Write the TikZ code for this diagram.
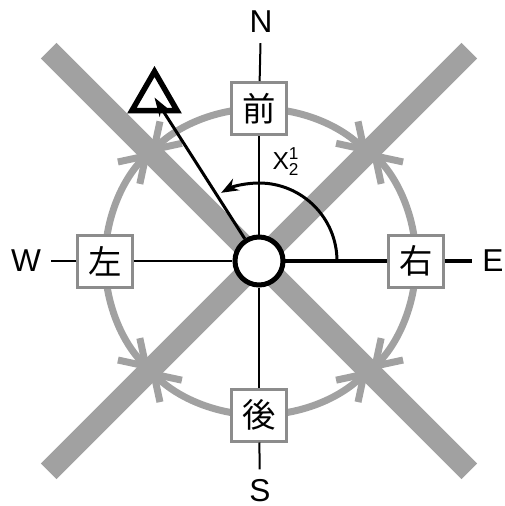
\documentclass[tikz,border=0pt]{standalone}
\usepackage{amsmath}
\usepackage{fontspec}
\setmainfont{Liberation Sans}
\newfontfamily\jpfont{Noto Sans CJK JP}
\usepackage{tikz}
\usetikzlibrary{arrows.meta, positioning, shapes.geometric, backgrounds}
\colorlet{cFaixa}{black!37}
\colorlet{cCaixa}{black!45}

\begin{document}
\begin{tikzpicture}[
  caixa/.style={draw=cCaixa, line width=0.06cm, fill=white, minimum width=1.1cm,
                minimum height=1.04cm, inner sep=0pt, font=\jpfont\fontsize{19}{19}\selectfont},
  rumo/.style={inner sep=0.2cm, font=\fontsize{18}{18}\selectfont},
  fino/.style={line width=0.04cm},
  grosso/.style={line width=0.09cm},
  faixa/.style={cFaixa, line width=0.44cm},
  giro/.style={cFaixa, line width=0.14cm, -{Straight Barb[length=0.48cm, width=0.62cm]}},
]
  \useasboundingbox (-5.18,-4.9) rectangle (4.92,5.22);
  % Centro e caixas
  \node[circle, draw, line width=0.1cm, fill=white, minimum size=0.96cm, inner sep=0pt] (c) at (0,0) {};
  \node[caixa] (fr) at (0,3.05) {前};
  \node[caixa] (tr) at (0,-3.08) {後};
  \node[caixa] (esq) at (-3.08,0) {左};
  \node[caixa] (dir) at (3.14,0) {右};
  % Rumos
  \node[rumo] (N) at (0.04,4.78) {N};
  \node[rumo] (S) at (0.02,-4.6) {S};
  \node[rumo] (W) at (-4.66,0) {W};
  \node[rumo] (E) at (4.68,0) {E};
  % Eixos
  \draw[fino] (N) -- (fr);
  \draw[fino] (fr) -- (c);
  \draw[fino] (c) -- (tr);
  \draw[fino] (tr) -- (S);
  \draw[fino] (W) -- (esq);
  \draw[fino] (esq) -- (c);
  \draw[grosso] (c) -- (dir);
  \draw[grosso] (dir) -- (E);
  % Alvo e seta
  \node[regular polygon, regular polygon sides=3, draw, line width=0.11cm, minimum size=1.04cm,
        inner sep=0pt] (alvo) at (-2.09,3.27) {};
  \draw[line width=0.06cm, -{Stealth[length=0.38cm, width=0.24cm]}] (c) -- (alvo.center);
  % Angulo
  \draw[line width=0.06cm, -{Stealth[length=0.34cm, width=0.26cm]}]
    ([xshift=1.56cm]c.center) arc[start angle=0, end angle=119, radius=1.56cm];
  \node[font=\fontsize{14}{14}\selectfont] (ang) at (0.54,1.98) {X$^{\text{1}}_{\text{2}}$};
  % Faixas e giros ao fundo
  \begin{scope}[on background layer]
    \draw[faixa] (135:5.95) -- (-45:5.95);
    \draw[faixa] (45:5.95) -- (225:5.95);
    \foreach \n/\a in {dir/0, fr/90, esq/180, tr/270} {
      \draw[giro] (\n.center) arc[start angle=\a, end angle=\a+45, radius=3.1cm];
      \draw[giro] (\n.center) arc[start angle=\a, end angle=\a-45, radius=3.1cm];
    }
  \end{scope}
\end{tikzpicture}
\end{document}
